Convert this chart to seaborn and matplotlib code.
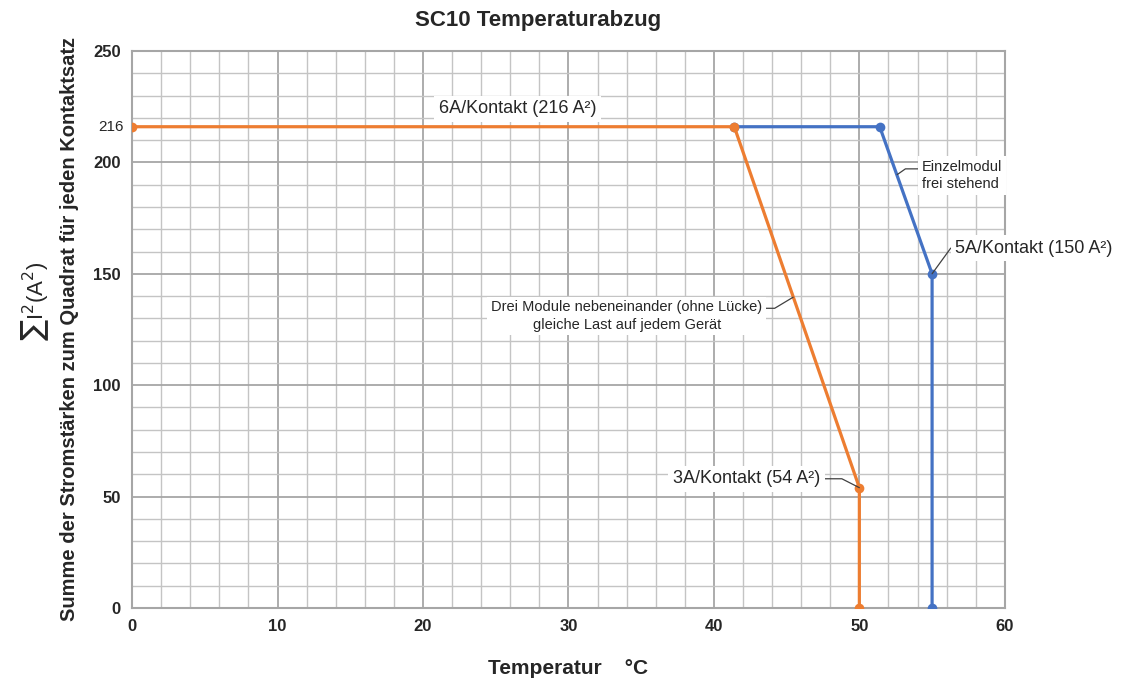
import matplotlib
matplotlib.use("Agg")
import matplotlib.pyplot as plt
from matplotlib.ticker import MultipleLocator
import pandas as pd
import seaborn as sns

# Daten
temp_drei = [0, 41.4, 50, 50]
last_drei = [216, 216, 54, 0]
temp_einzel = [41.4, 51.4, 55, 55]
last_einzel = [216, 216, 150, 0]
x_ticks = [0, 10, 20, 30, 40, 50, 60]
y_ticks = [0, 50, 100, 150, 200, 250]

df_drei = pd.DataFrame({'Temperatur': temp_drei, 'Last': last_drei})
df_einzel = pd.DataFrame({'Temperatur': temp_einzel, 'Last': last_einzel})

sns.set_style("white")
plt.rcParams['font.family'] = ['Liberation Sans Narrow', 'Liberation Sans', 'DejaVu Sans']

fig = plt.figure(figsize=(11.29, 6.86), dpi=100)
ax = fig.add_axes([0.117, 0.1137, 0.773, 0.812])

orange = '#ED7D31'
blue = '#4472C4'

sns.lineplot(data=df_einzel, x='Temperatur', y='Last', sort=False, estimator=None,
             color=blue, lw=2.3, marker='o', markersize=7, markeredgewidth=0,
             ax=ax, zorder=3)
sns.lineplot(data=df_drei, x='Temperatur', y='Last', sort=False, estimator=None,
             color=orange, lw=2.3, marker='o', markersize=7, markeredgewidth=0,
             ax=ax, zorder=4)

ax.set_xlim(0, 60)
ax.set_ylim(0, 250)
ax.set_xticks(x_ticks)
ax.set_yticks(y_ticks)
ax.xaxis.set_minor_locator(MultipleLocator(2))
ax.yaxis.set_minor_locator(MultipleLocator(10))
ax.grid(which='major', color='#a6a6a6', lw=1.3)
ax.grid(which='minor', color='#c4c4c4', lw=1.0)
ax.set_axisbelow(True)
for s in ax.spines.values():
    s.set_color('#a6a6a6')
    s.set_linewidth(1.5)
ax.tick_params(which='both', length=0)
ax.tick_params(axis='both', labelsize=12, pad=8)
for lab in ax.get_xticklabels() + ax.get_yticklabels():
    lab.set_fontweight('bold')

ax.text(-0.6, 216, '216', ha='right', va='center', fontsize=11)

ax.set_xlabel('Temperatur    °C', fontsize=15, fontweight='bold', labelpad=18)
ax.set_ylabel('Summe der Stromstärken zum Quadrat für jeden Kontaktsatz',
              fontsize=14.5, fontweight='bold', labelpad=10)
ax.set_title('SC10 Temperaturabzug', fontsize=16, fontweight='bold', pad=18, x=0.465)
fig.text(0.031, 0.56, r'$\sum$I$^2$(A$^2$)', rotation=90, ha='center', va='center',
         fontsize=16)

box = dict(boxstyle='square,pad=0.25', fc='white', ec='none')
lead = dict(arrowstyle='-', color='#404040', lw=0.9, shrinkA=0, shrinkB=0)

ax.text(26.5, 224, '6A/Kontakt (216 A²)', ha='center', va='center', fontsize=13,
        bbox=box, zorder=5)

ax.annotate('Einzelmodul\nfrei stehend', xy=(52.6, 194.5), xytext=(54.3, 194),
            ha='left', va='center', fontsize=10.5, linespacing=1.3, bbox=box, zorder=5,
            arrowprops=dict(lead, connectionstyle='angle,angleA=0,angleB=35,rad=0',
                            relpos=(0, 0.72)))

ax.annotate('5A/Kontakt (150 A²)', xy=(55, 150), xytext=(56.6, 161.5),
            ha='left', va='center', fontsize=13, bbox=box, zorder=5,
            arrowprops=dict(lead, connectionstyle='angle,angleA=0,angleB=54,rad=0',
                            relpos=(0, 0.5)))

ax.annotate('Drei Module nebeneinander (ohne Lücke)\ngleiche Last auf jedem Gerät',
            xy=(45.45, 139.5), xytext=(34.0, 131), ha='center', va='center',
            multialignment='center', fontsize=10.5, linespacing=1.3, bbox=box, zorder=5,
            arrowprops=dict(lead, connectionstyle='angle,angleA=0,angleB=31,rad=0',
                            relpos=(1, 0.75)))

ax.annotate('3A/Kontakt (54 A²)', xy=(50, 54), xytext=(47.3, 58),
            ha='right', va='center', fontsize=13, bbox=box, zorder=5,
            arrowprops=dict(lead, connectionstyle='angle,angleA=0,angleB=153,rad=0',
                            relpos=(1, 0.5)))

plt.savefig('out.png', dpi=100)
